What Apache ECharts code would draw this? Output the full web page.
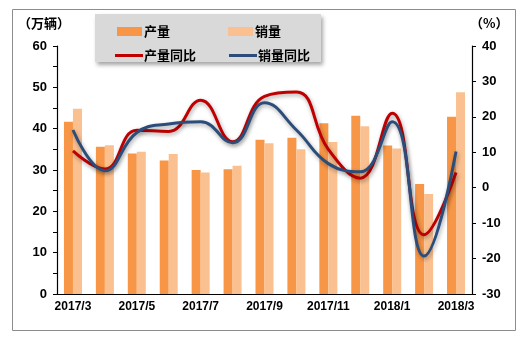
<!DOCTYPE html>
<html>
<head>
<meta charset="utf-8">
<script src="https://cdn.jsdelivr.net/npm/echarts@6/dist/echarts.min.js"></script>
<style>
  html, body { margin: 0; padding: 0; background: #fff; }
  #chart { width: 529px; height: 342px; }
</style>
</head>
<body>
<div id="chart"></div>
<script>
// Monthly output / sales (10k vehicles) and year-on-year growth (%)
const months = ['2017/3', '2017/4', '2017/5', '2017/6', '2017/7', '2017/8', '2017/9',
                '2017/10', '2017/11', '2017/12', '2018/1', '2018/2', '2018/3'];
const production = [41.7, 35.6, 34.0, 32.3, 30.0, 30.2, 37.3, 37.8, 41.3, 43.1, 35.9, 26.6, 42.9];
const sales      = [44.8, 36.0, 34.4, 33.9, 29.4, 31.0, 36.5, 35.0, 36.8, 40.6, 35.2, 24.2, 48.8];
const productionYoY = [10.4, 5.3, 16.2, 15.9, 24.7, 13.0, 25.8, 27.0, 10.8, 2.7, 21.0, -13.3, 4.3];
const salesYoY      = [16.3, 4.8, 15.6, 18.0, 18.6, 12.7, 24.0, 16.3, 6.8, 4.5, 18.6, -19.3, 10.2];

const leftTicks = { min: 0, max: 60, step: 5 };
const rightTicks = { min: -30, max: 40, step: 10 };

const FONT = '"Liberation Sans", Arial, "Noto Sans CJK SC", sans-serif';
const CJK = '"Noto Sans CJK SC", sans-serif';
const ORANGE = '#F79646';
const PEACH = '#FAC090';
const RED = '#C00000';
const NAVY = '#2C4D7A';

const chart = echarts.init(document.getElementById('chart'));

const lineShadow = { shadowColor: 'rgba(0,0,0,0.35)', shadowBlur: 4, shadowOffsetX: 1, shadowOffsetY: 2 };

chart.setOption({
  animation: false,
  backgroundColor: '#fff',
  grid: { left: 57, right: 57, top: 46, bottom: 48 },
  graphic: [
    {
      type: 'rect', silent: true, z: -10,
      shape: { x: 12.5, y: 9.5, width: 503, height: 321 },
      style: { fill: 'none', stroke: '#8c8c8c', lineWidth: 1 }
    },
    {
      type: 'rect', silent: true, z: 0,
      shape: { x: 95, y: 14, width: 226, height: 48 },
      style: { fill: '#d9d9d9', shadowColor: 'rgba(0,0,0,0.35)', shadowBlur: 4, shadowOffsetX: 2, shadowOffsetY: 3 }
    },
    {
      type: 'text', silent: true, left: 18, top: 17,
      style: { text: '（万辆）', font: 'bold 13px ' + CJK, fill: '#000' }
    },
    {
      type: 'text', silent: true, left: 470, top: 17,
      style: { text: '（%）', font: 'bold 13px ' + CJK, fill: '#000' }
    }
  ],
  legend: [
    {
      data: ['产量', '销量'],
      left: 112, top: 20, itemGap: 58,
      itemWidth: 25, itemHeight: 9, icon: 'rect',
      textStyle: { fontFamily: CJK, fontWeight: 'bold', fontSize: 13, color: '#000', padding: [0, 0, 0, -3] }
    },
    {
      data: ['产量同比', '销量同比'],
      left: 110, top: 44, itemGap: 33,
      itemWidth: 28, itemHeight: 3, icon: 'rect',
      textStyle: { fontFamily: CJK, fontWeight: 'bold', fontSize: 13, color: '#000', padding: [0, 0, 0, -4] }
    }
  ],
  xAxis: {
    type: 'category',
    data: months,
    boundaryGap: true,
    axisLine: { lineStyle: { color: '#000', width: 1.2 } },
    axisTick: { interval: 0, length: 4, lineStyle: { color: '#000' } },
    axisLabel: { interval: 1, margin: 7, color: '#000', fontFamily: FONT, fontWeight: 'bold', fontSize: 12 }
  },
  yAxis: [
    {
      type: 'value',
      min: leftTicks.min, max: leftTicks.max, interval: leftTicks.step,
      splitLine: { show: false },
      axisLine: { show: true, lineStyle: { color: '#000', width: 1.2 } },
      axisTick: { show: true, length: 4, lineStyle: { color: '#000' } },
      axisLabel: {
        margin: 10, color: '#000', fontFamily: FONT, fontWeight: 'bold', fontSize: 13,
        formatter: v => (v % 10 === 0 ? String(v) : '')
      }
    },
    {
      type: 'value',
      min: rightTicks.min, max: rightTicks.max, interval: rightTicks.step,
      splitLine: { show: false },
      axisLine: { show: true, lineStyle: { color: '#000', width: 1.2 } },
      axisTick: { show: true, length: 4, lineStyle: { color: '#000' } },
      axisLabel: { margin: 10, color: '#000', fontFamily: FONT, fontWeight: 'bold', fontSize: 13 }
    }
  ],
  series: [
    {
      name: '产量', type: 'bar', data: production,
      barWidth: 9, barGap: '0%',
      itemStyle: { color: ORANGE }
    },
    {
      name: '销量', type: 'bar', data: sales,
      barWidth: 9, barGap: '0%',
      itemStyle: { color: PEACH }
    },
    {
      name: '产量同比', type: 'line', yAxisIndex: 1, data: productionYoY,
      smooth: 0.45, symbol: 'none',
      itemStyle: { color: RED },
      lineStyle: Object.assign({ color: RED, width: 3 }, lineShadow),
      z: 3
    },
    {
      name: '销量同比', type: 'line', yAxisIndex: 1, data: salesYoY,
      smooth: 0.45, symbol: 'none',
      itemStyle: { color: NAVY },
      lineStyle: Object.assign({ color: NAVY, width: 3 }, lineShadow),
      z: 4
    }
  ]
});
</script>
</body>
</html>
